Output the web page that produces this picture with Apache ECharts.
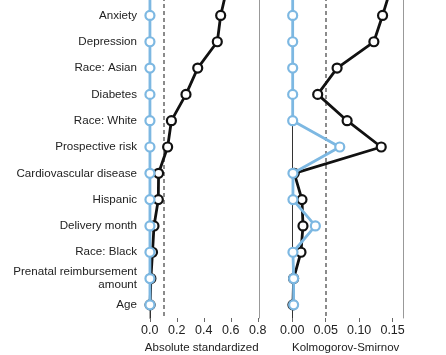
<!DOCTYPE html>
<html><head><meta charset="utf-8">
<script src="https://cdn.jsdelivr.net/npm/echarts@6/dist/echarts.min.js"></script>
<style>html,body{margin:0;padding:0;background:#fff}#c{width:446px;height:355px}</style>
</head><body><div id="c"></div>
<script>
const categories = ['', 'Anxiety', 'Depression', 'Race: Asian', 'Diabetes', 'Race: White', 'Prospective risk', 'Cardiovascular disease', 'Hispanic', 'Delivery month', 'Race: Black', 'Prenatal reimbursement\namount', 'Age'];
const smdBefore = [0.57, 0.525, 0.50, 0.355, 0.268, 0.16, 0.132, 0.065, 0.063, 0.031, 0.02, 0.008, 0.002];
const smdAfter  = [0.001, 0.001, 0.001, 0.001, 0.001, 0.001, 0.001, 0.001, 0.001, 0.001, 0.001, 0.001, 0.001];
const ksBefore  = [0.147, 0.135, 0.122, 0.067, 0.038, 0.082, 0.133, 0.003, 0.0145, 0.016, 0.013, 0.002, 0.001];
const ksAfter   = [0.0006, 0.0006, 0.0006, 0.0006, 0.0006, 0.0006, 0.071, 0.001, 0.001, 0.0345, 0.001, 0.002, 0.002];
const smdTicks = [0, 0.2, 0.4, 0.6, 0.8];
const ksTicks = [0, 0.05, 0.1, 0.15];
const smdTitle = 'Absolute standardized';
const ksTitle = 'Kolmogorov-Smirnov';

const FONT = 'Liberation Sans';
const BLUE = '#7db8e2';
const BLACK = '#111111';

function xAxisCfg(gi, min, max, ticks, dec, name) {
  return {
    type: 'value', gridIndex: gi, min: min, max: max,
    splitLine: {show: false},
    axisLine: {show: false},
    axisTick: {show: true, customValues: ticks, length: 4, lineStyle: {color: '#666'}},
    axisLabel: {customValues: ticks, formatter: v => v.toFixed(dec), fontFamily: FONT, fontSize: 12.5, color: '#222', margin: 6},
    name: name, nameLocation: 'middle', nameGap: 19,
    nameTextStyle: {fontFamily: FONT, fontSize: 11.5, color: '#222'}
  };
}
function lineSeries(xi, data, color, z, markLines) {
  const s = {
    type: 'line', xAxisIndex: xi, data: data, z: z,
    symbol: 'circle', symbolSize: 9, showSymbol: true,
    lineStyle: {color: color, width: 2.8},
    itemStyle: {color: '#fff', borderColor: color, borderWidth: 2.2},
    animation: false, silent: true
  };
  if (markLines) s.markLine = markLines;
  return s;
}
function refLines(dashVal) {
  return {
    silent: true, symbol: 'none', label: {show: false}, animation: false, z: 1,
    data: [
      {xAxis: 0, lineStyle: {color: '#333', width: 1, type: 'solid'}},
      {xAxis: dashVal, lineStyle: {color: '#666', width: 1.5, type: [4, 3]}}
    ]
  };
}
function yAxisCfg(gi, showLabels, lineColor, lineWidth) {
  return {
    type: 'category', gridIndex: gi, data: categories, inverse: true,
    axisLine: {show: true, lineStyle: {color: lineColor, width: lineWidth}},
    axisTick: {show: showLabels, alignWithLabel: true, length: 4, lineStyle: {color: '#888'}},
    axisLabel: {show: showLabels, fontFamily: FONT, fontSize: 11.6, color: '#222', margin: 7, lineHeight: 13, align: 'right'},
    splitLine: {show: false}
  };
}
function rightBorder(gi) {
  return {
    type: 'category', gridIndex: gi, data: categories, inverse: true, position: 'right',
    axisLine: {show: true, lineStyle: {color: '#999', width: 1}},
    axisTick: {show: false}, axisLabel: {show: false}, splitLine: {show: false}
  };
}

const chart = echarts.init(document.getElementById('c'), null, {renderer: 'canvas'});
chart.setOption({
  animation: false,
  backgroundColor: '#fff',
  grid: [
    {left: 144, top: -24, width: 115.5, height: 342, containLabel: false, outerBoundsMode: 'none'},
    {left: 288, top: -24, width: 115.3, height: 342, containLabel: false, outerBoundsMode: 'none'}
  ],
  xAxis: [
    xAxisCfg(0, -0.043, 0.8126, smdTicks, 1, smdTitle),
    xAxisCfg(1, -0.0064, 0.166, ksTicks, 2, ksTitle)
  ],
  yAxis: [
    yAxisCfg(0, true, '#aaa', 2),
    rightBorder(0),
    yAxisCfg(1, false, '#999', 1),
    rightBorder(1)
  ],
  series: [
    Object.assign(lineSeries(0, smdBefore, BLACK, 3, refLines(0.1)), {yAxisIndex: 0}),
    Object.assign(lineSeries(0, smdAfter, BLUE, 4), {yAxisIndex: 0}),
    Object.assign(lineSeries(1, ksBefore, BLACK, 3, refLines(0.05)), {yAxisIndex: 2}),
    Object.assign(lineSeries(1, ksAfter, BLUE, 4), {yAxisIndex: 2})
  ]
});
</script></body></html>
